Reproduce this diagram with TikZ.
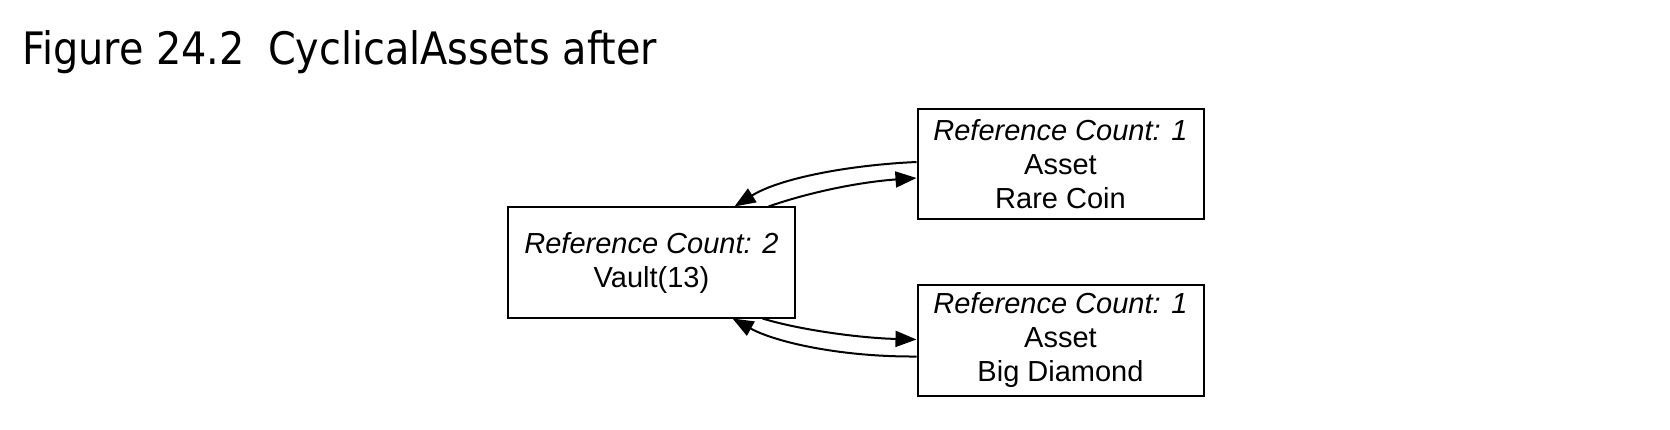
\documentclass[tikz,border=0pt]{standalone}
\usepackage{fontspec}
\setmainfont{Liberation Sans}
\newfontfamily\titlefont[FakeStretch=0.89]{DejaVu Sans}
\usetikzlibrary{arrows.meta}
\begin{document}
\begin{tikzpicture}[x=1pt,y=-1pt,
  objbox/.style={draw=black,line width=2pt,minimum width=286pt,minimum height=110pt,
    align=center,inner sep=0pt,font=\fontsize{29}{34}\selectfont},
  refarrow/.style={line width=2pt,-{Triangle[length=21pt,width=16pt]}}]
\useasboundingbox (0,0) rectangle (1670,430);
\fill[white] (0,0) rectangle (1670,430);
\node[anchor=base west,inner sep=0pt,font=\titlefont\fontsize{44.7}{50}\selectfont] (title) at (22,64.3) {Figure 24.2\hspace{0.52em}CyclicalAssets after};
\node[objbox,minimum width=287pt] (vault) at (651.5,262.5) {\textit{Reference Count: 2}\\Vault(13)};
\node[objbox] (rare) at (1060.5,164) {\textit{Reference Count: 1}\\Asset\\Rare Coin};
\node[objbox] (big) at (1060.5,340.5) {\textit{Reference Count: 1}\\Asset\\Big Diamond};
\draw[refarrow] ([yshift=2pt]rare.west) .. controls (850,165) and (780,178) .. ([xshift=83pt]vault.north);
\draw[refarrow] ([xshift=117pt]vault.north) .. controls (810,192) and (860,182) .. ([yshift=-14pt]rare.west);
\draw[refarrow] ([xshift=111pt]vault.south) .. controls (800,330) and (860,338) .. ([yshift=1pt]big.west);
\draw[refarrow] ([yshift=-16pt]big.west) .. controls (840,357) and (775,342) .. ([xshift=81pt]vault.south);
\end{tikzpicture}
\end{document}
